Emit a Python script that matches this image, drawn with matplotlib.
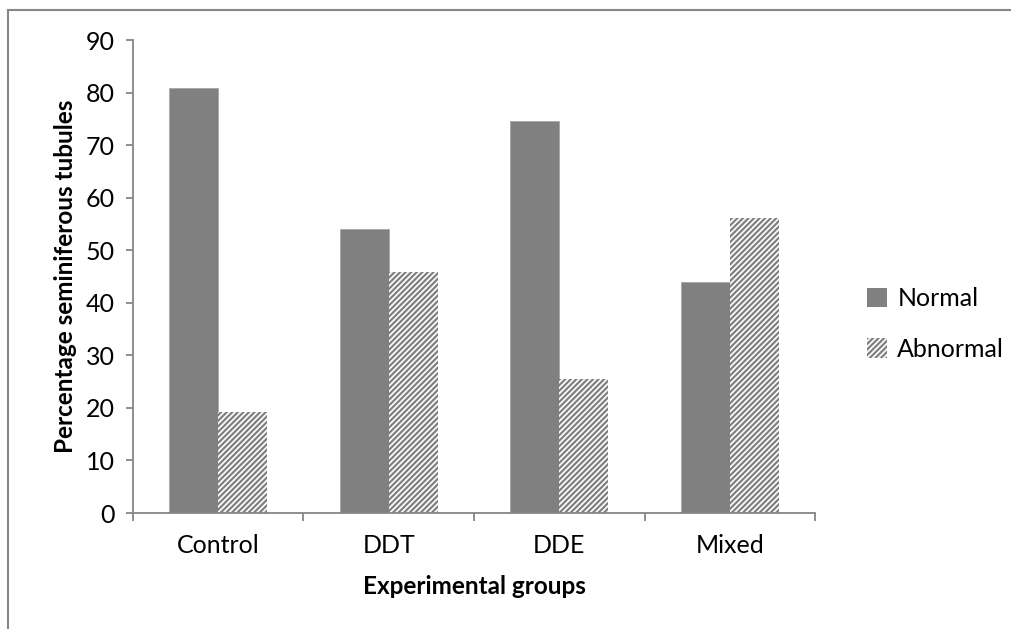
"""Bar chart of normal vs abnormal seminiferous tubules per experimental group."""

import matplotlib

matplotlib.use("Agg")
import matplotlib.pyplot as plt
import numpy as np
from matplotlib.patches import Patch, Rectangle

GROUPS = ["Control", "DDT", "DDE", "Mixed"]
NORMAL = [80.8, 54.1, 74.5, 43.9]
ABNORMAL = [19.2, 45.9, 25.5, 56.1]
Y_TICKS = [0, 10, 20, 30, 40, 50, 60, 70, 80, 90]

BAR_GREY = "#808080"
AXIS_GREY = "#868686"
HATCH = "//////"

plt.rcParams["font.family"] = ["Lato", "DejaVu Sans"]
plt.rcParams["hatch.linewidth"] = 1.6

fig = plt.figure(figsize=(10.12, 6.29), dpi=100)
ax = fig.add_axes([0.1314, 0.1844, 0.674, 0.752])

# outer chart frame (runs off the right and bottom of the image)
fig.patches.append(
    Rectangle((8 / 1012, -0.1), 1.2, 1.1 - 10 / 629, transform=fig.transFigure,
              fill=False, edgecolor=AXIS_GREY, linewidth=1.5)
)

x = np.arange(len(GROUPS))
width = 0.288
ax.bar(x - width / 2, NORMAL, width, color=BAR_GREY, edgecolor="#a6a6a6", linewidth=0.6)
ax.bar(x + width / 2, ABNORMAL, width, color="white", edgecolor=BAR_GREY,
       hatch=HATCH, linewidth=0)

ax.set_xlim(-0.5, len(GROUPS) - 0.5)
ax.set_ylim(0, 90)
ax.set_yticks(Y_TICKS)
ax.set_xticks(x)
ax.set_xticklabels(GROUPS)
ax.set_xticks(np.arange(-0.5, len(GROUPS)), minor=True)

for side in ("top", "right"):
    ax.spines[side].set_visible(False)
for side in ("left", "bottom"):
    ax.spines[side].set_color(AXIS_GREY)
    ax.spines[side].set_linewidth(1.3)

ax.tick_params(axis="y", direction="out", length=5, width=1.3, color=AXIS_GREY,
               labelsize=18, pad=8)
ax.tick_params(axis="x", which="major", length=0, labelsize=18, pad=15)
ax.tick_params(axis="x", which="minor", direction="out", length=6, width=1.3,
               color=AXIS_GREY)

ax.set_ylabel("Percentage seminiferous tubules", fontsize=17.5, fontweight="bold",
              labelpad=6)
ax.set_xlabel("Experimental groups", fontsize=17.5, fontweight="bold", labelpad=13)

handles = [
    Patch(facecolor=BAR_GREY, edgecolor="none", label="Normal"),
    Patch(facecolor="white", edgecolor=BAR_GREY, linewidth=0, hatch=HATCH,
          label="Abnormal"),
]
fig.legend(handles=handles, loc="center left", bbox_to_anchor=(0.857, 0.485),
           frameon=False, fontsize=18, handlelength=0.8, handleheight=0.8,
           handletextpad=0.4, labelspacing=1.1, borderpad=0, borderaxespad=0)

fig.savefig("out.png", dpi=100)
